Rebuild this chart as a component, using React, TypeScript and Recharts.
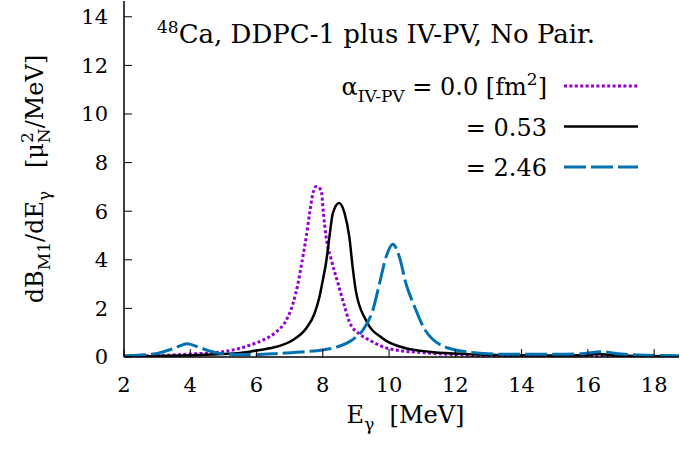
import React from "react";
import { LineChart, Line, XAxis, YAxis, Legend } from "recharts";

// E_gamma [MeV] ticks and dB/dE ticks
const xTicks = [2, 4, 6, 8, 10, 12, 14, 16, 18];
const yTicks = [0, 2, 4, 6, 8, 10, 12, 14];
const xDomain = [2, 18.75];
const yDomain = [0, 14.65];

// alpha_IV-PV = 0.0 fm^2 (dotted)
const e00 = [2, 3, 4, 5, 5.5, 5.8, 6.2, 6.6, 6.9, 7.1, 7.25, 7.38, 7.5, 7.6, 7.7, 7.8, 7.95, 8.02, 8.1, 8.26, 8.46, 8.66, 8.8, 9.1, 9.4, 10, 11.1, 12, 13, 14, 15, 16, 16.4, 17, 18, 18.75];
const b00 = [0.03, 0.06, 0.12, 0.22, 0.36, 0.49, 0.7, 1.04, 1.52, 2.2, 3.02, 3.98, 4.94, 5.9, 6.72, 7.02, 6.86, 5.9, 4.94, 3.98, 3.02, 2.07, 1.45, 0.95, 0.7, 0.34, 0.17, 0.1, 0.06, 0.04, 0.03, 0.03, 0.05, 0.03, 0.02, 0.02];

// alpha_IV-PV = 0.53 fm^2 (solid)
const e053 = [2, 3, 4, 5, 5.5, 5.8, 6.1, 6.6, 7.1, 7.5, 7.75, 7.9, 8, 8.1, 8.2, 8.3, 8.49, 8.66, 8.8, 8.9, 9, 9.3, 9.8, 10.5, 11.2, 12, 13, 14, 15, 15.8, 16.3, 16.8, 17.5, 18.75];
const b053 = [0.02, 0.04, 0.07, 0.12, 0.17, 0.22, 0.29, 0.42, 0.7, 1.18, 1.79, 2.48, 3.16, 3.9, 4.94, 5.9, 6.34, 5.9, 4.94, 3.71, 2.7, 1.52, 0.77, 0.36, 0.22, 0.14, 0.09, 0.07, 0.06, 0.07, 0.12, 0.07, 0.04, 0.03];

// alpha_IV-PV = 2.46 fm^2 (dashed)
const e246 = [2, 2.5, 3, 3.5, 3.9, 4.3, 4.8, 5.5, 6, 6.7, 7.5, 8, 8.4, 8.71, 9, 9.21, 9.51, 9.71, 9.91, 10.11, 10.31, 10.51, 10.77, 11.1, 11.8, 12.5, 13.5, 15, 15.8, 16.4, 17, 17.5, 18.75];
const b246 = [0.05, 0.08, 0.15, 0.35, 0.55, 0.38, 0.17, 0.1, 0.1, 0.15, 0.22, 0.29, 0.4, 0.56, 0.82, 1.11, 1.93, 3.02, 4.12, 4.64, 4.12, 3.02, 2.07, 1.08, 0.36, 0.19, 0.11, 0.11, 0.13, 0.22, 0.12, 0.08, 0.05];

const alphaLabels = ["0.0", "0.53", "2.46"];

const toPoints = (xs: number[], ys: number[]) => xs.map((e, i) => ({ e, v: ys[i] }));

const series = [
  { name: alphaLabels[0], data: toPoints(e00, b00), color: "#9400d3", width: 3, dash: "3 2.4" },
  { name: alphaLabels[1], data: toPoints(e053, b053), color: "#000000", width: 2.5, dash: undefined },
  { name: alphaLabels[2], data: toPoints(e246, b246), color: "#0072b2", width: 3, dash: "22 5" },
];

const FONT = "'DejaVu Serif', serif";
const tickFs = 21;
const labelFs = 24;
const titleFs = 26;
const keyFs = 24;
const small = 17;

const YLabel = ({ viewBox }: any) => {
  const cx = viewBox.x + 43;
  const cy = viewBox.y + viewBox.height / 2;
  return (
    <text x={cx} y={cy} transform={`rotate(-90 ${cx} ${cy})`} textAnchor="middle"
      fontFamily={FONT} fontSize={labelFs} fill="#000" style={{ whiteSpace: "pre" }}>
      dB<tspan dy={7} fontSize={small}>M1</tspan>
      <tspan dy={-7}>/dE</tspan>
      <tspan dy={7} fontSize={small}>γ</tspan>
      <tspan dy={-7}>{"   [μ"}</tspan>
      <tspan dy={-10} fontSize={small}>2</tspan>
      <tspan dx={-11} dy={17} fontSize={small}>N</tspan>
      <tspan dy={-7}>/MeV]</tspan>
    </text>
  );
};

const XLabel = ({ viewBox }: any) => {
  const cx = viewBox.x + viewBox.width / 2 + 4;
  const cy = viewBox.y + 66;
  return (
    <text x={cx} y={cy} textAnchor="middle" fontFamily={FONT} fontSize={labelFs} fill="#000" style={{ whiteSpace: "pre" }}>
      E<tspan dy={7} fontSize={small}>γ</tspan>
      <tspan dy={-7}>{"  [MeV]"}</tspan>
    </text>
  );
};

const KeyBox = () => (
  <svg width={680} height={200} style={{ display: "block" }}>
    <text x={157} y={43} fontFamily={FONT} fontSize={titleFs} fill="#000">
      <tspan dy={-10} fontSize={small}>48</tspan>
      <tspan dy={10}>Ca, DDPC-1 plus IV-PV, No Pair.</tspan>
    </text>
    {series.map((s, i) => {
      const base = 95 + i * 40.5;
      return (
        <g key={s.name}>
          <text x={547} y={base} textAnchor="end" fontFamily={FONT} fontSize={keyFs} fill="#000">
            {i === 0 ? (
              <>
                α<tspan dy={7} fontSize={small}>IV-PV</tspan>
                <tspan dy={-7}>{` = ${s.name} [fm`}</tspan>
                <tspan dy={-10} fontSize={small}>2</tspan>
                <tspan dy={10}>]</tspan>
              </>
            ) : (
              `= ${s.name}`
            )}
          </text>
          <line x1={564} x2={638} y1={base - 9} y2={base - 9} stroke={s.color}
            strokeWidth={s.width} strokeDasharray={s.dash} />
        </g>
      );
    })}
  </svg>
);

export default function App() {
  const tickStyle = { fill: "#000", fontSize: tickFs, fontFamily: FONT };
  const axisLine = { stroke: "#000", strokeWidth: 1.5 };
  const tickLine = { stroke: "#000", strokeWidth: 1 };
  return (
    <div style={{ position: "absolute", left: 0, top: 0, width: 680, height: 449, background: "#fff" }}>
      <LineChart width={680} height={449} margin={{ top: 1, right: 1, bottom: 0, left: 0 }}>
        <XAxis dataKey="e" type="number" domain={xDomain} ticks={xTicks} allowDataOverflow
          height={92} tickSize={-8} tickMargin={28} tick={tickStyle} axisLine={axisLine} tickLine={tickLine}
          label={<XLabel />} />
        <XAxis xAxisId="top" orientation="top" dataKey="e" type="number" domain={xDomain} ticks={xTicks}
          allowDataOverflow height={0} tickSize={-8} tick={false} axisLine={axisLine} tickLine={tickLine} />
        <YAxis type="number" domain={yDomain} ticks={yTicks} allowDataOverflow width={124}
          tickSize={-8} tickMargin={24} tick={tickStyle} axisLine={axisLine} tickLine={tickLine}
          label={<YLabel />} />
        <YAxis yAxisId="right" orientation="right" type="number" domain={yDomain} ticks={yTicks}
          allowDataOverflow width={0} tickSize={-8} tick={false} axisLine={axisLine} tickLine={tickLine} />
        <Legend content={<KeyBox />} layout="horizontal" verticalAlign="middle" align="center"
          wrapperStyle={{ left: 0, top: 0, width: 680, height: 200, pointerEvents: "none" }} />
        {series.map((s) => (
          <Line key={s.name} data={s.data} dataKey="v" name={s.name} type="monotone" dot={false}
            stroke={s.color} strokeWidth={s.width} strokeDasharray={s.dash} isAnimationActive={false} />
        ))}
      </LineChart>
    </div>
  );
}
